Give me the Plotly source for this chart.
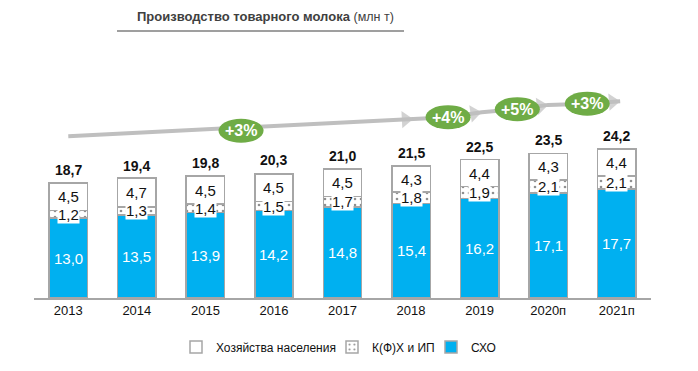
import math
import plotly.graph_objects as go

years = ["2013", "2014", "2015", "2016", "2017", "2018", "2019", "2020п", "2021п"]
sho = [13.0, 13.5, 13.9, 14.2, 14.8, 15.4, 16.2, 17.1, 17.7]
kfh = [1.2, 1.3, 1.4, 1.5, 1.7, 1.8, 1.9, 2.1, 2.1]
hh = [4.5, 4.7, 4.5, 4.5, 4.5, 4.3, 4.4, 4.3, 4.4]
totals = [18.7, 19.4, 19.8, 20.3, 21.0, 21.5, 22.5, 23.5, 24.2]
growth_labels = ["+3%", "+4%", "+5%", "+3%"]

FONT = "Liberation Sans, Arial, sans-serif"
BLUE = "#00B0F0"
GRAY = "#A6A6A6"
GREEN = "#6FAC46"
ARROW = "#BFBFBF"
X = list(range(len(years)))

# page body has an 8px default margin; plot area in window px: x 34..651, y 52..298
OFF = 8
PL, PR, PT, PB = 34, 651, 52, 298
PW, PH = PR - PL, PB - PT
YMAX = 40
SX = PW / len(years)      # px per category unit
SY = PH / YMAX            # px per value unit


def px_x(v):
    return (v - PL) / PW


def px_y(v):
    return (PB - v) / PH


def fmt(v):
    return f"{v:.1f}".replace(".", ",")


fig = go.Figure()
fig.add_bar(x=X, y=sho, name="СХО", legend="legend3",
            marker=dict(color=BLUE, line=dict(color=GRAY, width=1.5)), width=0.56)
fig.add_bar(x=X, y=kfh, name="К(Ф)Х и ИП", legend="legend2",
            marker=dict(color="white", line=dict(color=GRAY, width=1.5),
                        pattern=dict(shape=".", fgcolor="#222222", bgcolor="white", size=6, solidity=0.15)),
            width=0.56)
fig.add_bar(x=X, y=hh, name="Хозяйства населения", legend="legend",
            marker=dict(color="white", line=dict(color=GRAY, width=1.5)), width=0.56)

# growth arrow path (category units, value units): start, tips and ellipse centres
path = [(0.0, 26.3), (5.03, 29.1), (5.54, 29.4), (6.03, 30.2), (6.55, 30.7),
        (7.0, 31.4), (7.57, 31.6), (8.05, 32.0)]
tip_idx = [1, 3, 5, 7]
ell_centres = [(2.52, 27.2), (5.54, 29.4), (6.55, 30.7), (7.57, 31.6)]

fig.add_scatter(x=[p[0] for p in path], y=[p[1] for p in path], mode="lines",
                line=dict(color=ARROW, width=4), showlegend=False, hoverinfo="skip",
                cliponaxis=False)
HEAD = 15
for k in tip_idx:
    (x0, y0), (x1, y1) = path[k - 1], path[k]
    dx, dy = (x1 - x0) * SX, (y1 - y0) * SY
    L = math.hypot(dx, dy)
    back = HEAD / 2
    cx = x1 - back * dx / L / SX
    cy = y1 - back * dy / L / SY
    fig.add_scatter(x=[x0, cx], y=[y0, cy], mode="markers",
                    marker=dict(symbol="triangle-up", angleref="previous", size=[0, HEAD],
                                color=ARROW, line=dict(width=0)),
                    showlegend=False, hoverinfo="skip", cliponaxis=False)

ann = []
for i in X:
    ann.append(dict(x=i, y=sho[i] / 2, text=fmt(sho[i]), showarrow=False,
                    font=dict(color="white", size=15, family=FONT)))
    ann.append(dict(x=i, y=sho[i] + kfh[i] / 2, text=fmt(kfh[i]), showarrow=False,
                    bgcolor="white", borderpad=0,
                    font=dict(color="#111111", size=15, family=FONT)))
    ann.append(dict(x=i, y=sho[i] + kfh[i] + hh[i] / 2, text=fmt(hh[i]), showarrow=False,
                    font=dict(color="#111111", size=15, family=FONT)))
    ann.append(dict(x=i, y=totals[i], text="<b>" + fmt(totals[i]) + "</b>", showarrow=False,
                    yanchor="bottom", yshift=3,
                    font=dict(color="#111111", size=14, family=FONT)))

shapes = []
EW, EH = 45 / SX / 2, 24 / SY / 2
for lab, (gx, gyv) in zip(growth_labels, ell_centres):
    shapes.append(dict(type="circle", xref="x", yref="y", x0=gx - EW, x1=gx + EW,
                       y0=gyv - EH, y1=gyv + EH, fillcolor=GREEN, line=dict(width=0), layer="above"))
    ann.append(dict(x=gx, y=gyv, text="<b>" + lab + "</b>", showarrow=False,
                    xanchor="center", yanchor="middle",
                    font=dict(color="white", size=16, family=FONT)))

# title
ann.append(dict(xref="paper", yref="paper", x=px_x(265), y=px_y(16),
                xanchor="center", yanchor="middle",
                text="<b>Производство товарного молока</b> <span style='font-size:12.5px'>(млн т)</span>",
                showarrow=False, font=dict(color="#404040", size=13, family=FONT)))
shapes.append(dict(type="line", xref="paper", yref="paper", x0=px_x(117), x1=px_x(404),
                   y0=px_y(31), y1=px_y(31), line=dict(color="#7F7F7F", width=1.5)))

leg_common = dict(orientation="h", yanchor="middle", y=px_y(347), xanchor="left",
                  font=dict(size=12, color="#111111"), itemwidth=30, bgcolor="rgba(0,0,0,0)")

fig.update_layout(
    barmode="stack",
    width=698, height=371,
    margin=dict(l=PL - OFF, r=698 - (PR - OFF), t=PT - OFF, b=371 - (PB - OFF)),
    paper_bgcolor="white", plot_bgcolor="white",
    font=dict(family=FONT, color="#111111"),
    xaxis=dict(tickmode="array", tickvals=X, ticktext=years, range=[-0.5, 8.5],
               showline=True, linecolor="#A6A6A6", linewidth=1.5, showgrid=False, ticks="",
               tickfont=dict(size=13, color="#111111")),
    yaxis=dict(range=[0, YMAX], visible=False),
    showlegend=True,
    legend=dict(leg_common, x=px_x(176)),
    legend2=dict(leg_common, x=px_x(332)),
    legend3=dict(leg_common, x=px_x(431)),
    annotations=ann,
    shapes=shapes,
)

fig.write_html("out.html")
